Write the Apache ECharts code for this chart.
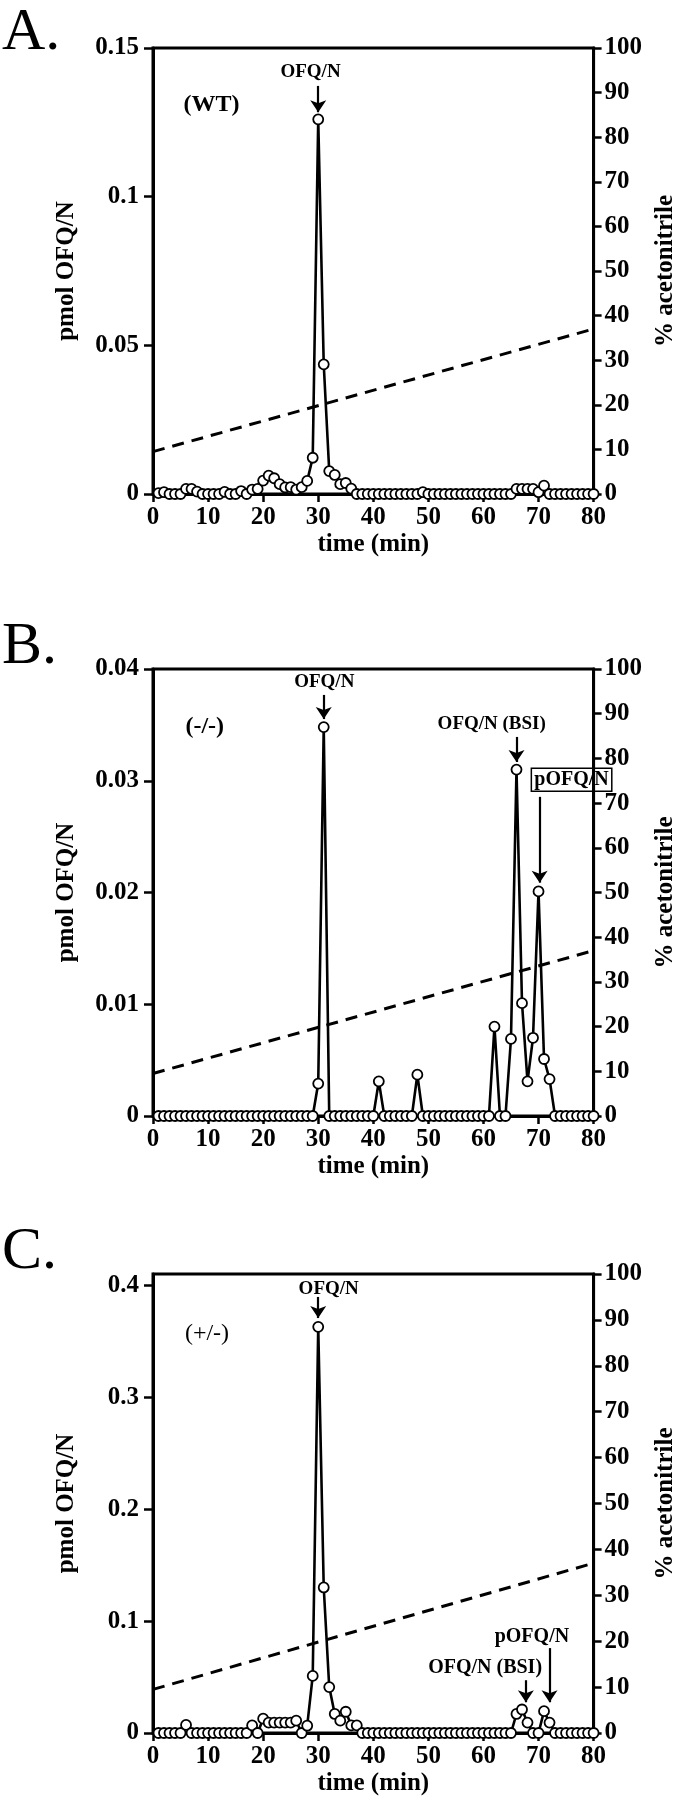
<!DOCTYPE html>
<html>
<head>
<meta charset="utf-8">
<script src="https://cdn.jsdelivr.net/npm/echarts@6/dist/echarts.min.js"></script>
<style>
  html, body { margin: 0; padding: 0; background: #fff; }
  #chart { width: 686px; height: 1800px; }
</style>
</head>
<body>
<div id="chart"></div>
<script>
// fraction collection times (min)
const timeMin = [
  1, 2, 3, 4, 5, 6, 7, 8, 9, 10, 11, 12, 13, 14, 15, 16, 17, 18, 19, 20,
  21, 22, 23, 24, 25, 26, 27, 28, 29, 30, 31, 32, 33, 34, 35, 36, 37, 38, 39, 40,
  41, 42, 43, 44, 45, 46, 47, 48, 49, 50, 51, 52, 53, 54, 55, 56, 57, 58, 59, 60,
  61, 62, 63, 64, 65, 66, 67, 68, 69, 70, 71, 72, 73, 74, 75, 76, 77, 78, 79, 80
]

// A. (WT)
const pmolWT = [
  0.0003, 0.0006, 0, 0, 0, 0.0017, 0.0017, 0.0008, 0, 0, 0, 0, 0.0007, 0, 0, 0.001, 0, 0.0015, 0.0017, 0.0045,
  0.0062, 0.0053, 0.0033, 0.0022, 0.0023, 0.0015, 0.0023, 0.0044, 0.0122, 0.126, 0.0436, 0.0077, 0.0064, 0.0033, 0.0037, 0.0018, 0, 0, 0, 0,
  0, 0, 0, 0, 0, 0, 0, 0, 0.0006, 0, 0, 0, 0, 0, 0, 0, 0, 0, 0, 0,
  0, 0, 0, 0, 0, 0.0017, 0.0017, 0.0017, 0.0017, 0.0006, 0.0028, 0, 0, 0, 0, 0, 0, 0, 0, 0
]

// B. (-/-)
const pmolKO = [
  0, 0, 0, 0, 0, 0, 0, 0, 0, 0, 0, 0, 0, 0, 0, 0, 0, 0, 0, 0,
  0, 0, 0, 0, 0, 0, 0, 0, 0, 0.0029, 0.0348, 0, 0, 0, 0, 0, 0, 0, 0, 0,
  0.0031, 0, 0, 0, 0, 0, 0, 0.0037, 0, 0, 0, 0, 0, 0, 0, 0, 0, 0, 0, 0,
  0, 0.008, 0, 0, 0.0069, 0.031, 0.0101, 0.0031, 0.007, 0.0201, 0.0051, 0.0033, 0, 0, 0, 0, 0, 0, 0, 0
]

// C. (+/-)
const pmolHet = [
  0, 0, 0, 0, 0, 0.0072, 0, 0, 0, 0, 0, 0, 0, 0, 0, 0, 0, 0.0068, 0, 0.0128,
  0.0093, 0.0093, 0.0093, 0.0093, 0.0093, 0.011, 0, 0.0065, 0.051, 0.3628, 0.13, 0.041, 0.017, 0.011, 0.019, 0.0068, 0.0068, 0, 0, 0,
  0, 0, 0, 0, 0, 0, 0, 0, 0, 0, 0, 0, 0, 0, 0, 0, 0, 0, 0, 0,
  0, 0, 0, 0, 0, 0.017, 0.021, 0.0093, 0, 0, 0.0195, 0.0093, 0, 0, 0, 0, 0, 0, 0, 0
]

// acetonitrile gradient (dashed)
const gradTime = [0, 80]
const gradPct = [9.5, 37]

// tick labels
const timeTicks = [0, 10, 20, 30, 40, 50, 60, 70, 80]
const pctTicks = [0, 10, 20, 30, 40, 50, 60, 70, 80, 90, 100]
const pmolTicksA = [0, 0.05, 0.1, 0.15]
const pmolTicksB = [0, 0.01, 0.02, 0.03, 0.04]
const pmolTicksC = [0, 0.1, 0.2, 0.3, 0.4]

const FONT = "'Liberation Serif', 'DejaVu Serif', serif"

const panels = [
  {
    letter: 'A.', top: 48, height: 446, letterTop: 3,
    max: 0.15, interval: 0.05, ticks: pmolTicksA, values: pmolWT,
    notes: [
      { text: 'OFQ/N', x: 28.6, y: 94.6 },
      { text: '(WT)', x: 10.6, y: 87.2, size: 24 }
    ],
    arrows: [[30, 91.5, 85.6]]
  },
  {
    letter: 'B.', top: 669, height: 447, letterTop: 617,
    max: 0.04, interval: 0.01, ticks: pmolTicksB, values: pmolKO,
    notes: [
      { text: 'OFQ/N', x: 31.1, y: 97.1 },
      { text: '(-/-)', x: 9.4, y: 87.0, size: 24 },
      { text: 'OFQ/N (BSI)', x: 61.5, y: 87.7 },
      { text: 'pOFQ/N', x: 76, y: 75.2, boxed: true, size: 20 }
    ],
    arrows: [[31, 94.2, 88.8], [66, 84.8, 79.2], [70.2, 71.4, 52.2]]
  },
  {
    letter: 'C.', top: 1274, height: 459, letterTop: 1222,
    max: 0.41, interval: 0.1, ticks: pmolTicksC, values: pmolHet,
    notes: [
      { text: 'OFQ/N', x: 31.9, y: 96.7 },
      { text: '(+/-)', x: 9.8, y: 87.1, size: 24, weight: 'normal' },
      { text: 'pOFQ/N', x: 68.8, y: 20.9, size: 20 },
      { text: 'OFQ/N (BSI)', x: 60.3, y: 14.2, size: 20 }
    ],
    arrows: [[30, 95.0, 90.4], [67.7, 11.5, 6.7], [72, 18.5, 6.7]]
  }
]

const tickLabel = { fontFamily: FONT, fontWeight: 'bold', fontSize: 25, color: '#000' }
const axisName = { fontFamily: FONT, fontWeight: 'bold', fontSize: 25, color: '#000' }

const option = {
  animation: false,
  backgroundColor: '#fff',
  title: [],
  grid: [],
  xAxis: [],
  yAxis: [],
  series: []
}

panels.forEach((p, i) => {
  option.title.push({
    text: p.letter, left: 2, top: p.letterTop, padding: 0,
    textStyle: { fontFamily: FONT, fontWeight: 'normal', fontSize: 60, color: '#000' }
  })
  option.grid.push({
    left: 153, width: 447, top: p.top, height: p.height,
    show: true, borderColor: '#000', borderWidth: 3, backgroundColor: 'transparent'
  })
  option.xAxis.push({
    gridIndex: i, type: 'value', min: 0, max: 80, interval: 10,
    name: 'time (min)', nameLocation: 'middle', nameGap: 38, nameTextStyle: axisName,
    axisLine: { onZero: false, lineStyle: { color: '#000', width: 3 } },
    axisTick: { inside: false, length: 8, lineStyle: { width: 2.5 } },
    axisLabel: Object.assign({ margin: 11, customValues: timeTicks }, tickLabel),
    splitLine: { show: false }
  })
  option.yAxis.push({
    gridIndex: i, type: 'value', position: 'left', min: 0, max: p.max, interval: p.interval,
    name: 'pmol OFQ/N', nameLocation: 'middle', nameGap: 74, nameRotate: 90, nameTextStyle: axisName,
    axisLine: { show: true, lineStyle: { color: '#000', width: 3 } },
    axisTick: { show: true, length: 9, lineStyle: { width: 2.5 }, customValues: p.ticks },
    axisLabel: Object.assign({ margin: 14, customValues: p.ticks }, tickLabel),
    splitLine: { show: false }
  })
  option.yAxis.push({
    gridIndex: i, type: 'value', position: 'right', min: 0, max: 100, interval: 10,
    name: '% acetonitrile', nameLocation: 'middle', nameGap: 56, nameRotate: 90, nameTextStyle: axisName,
    axisLine: { show: true, lineStyle: { color: '#000', width: 3 } },
    axisTick: { show: true, length: 8, lineStyle: { width: 2.5 }, customValues: pctTicks },
    axisLabel: Object.assign({ margin: 11, customValues: pctTicks }, tickLabel),
    splitLine: { show: false }
  })

  // gradient line, carries the text and arrow annotations
  option.series.push({
    type: 'line', xAxisIndex: i, yAxisIndex: i * 2 + 1,
    data: gradTime.map((t, k) => [t, gradPct[k]]),
    symbol: 'none', silent: true, z: 2,
    lineStyle: { color: '#000', width: 3, type: [12, 8] },
    markPoint: {
      symbol: 'circle', symbolSize: 0, silent: true,
      data: p.notes.map(n => ({
        coord: [n.x, n.y],
        label: {
          show: true, position: 'inside', formatter: n.text,
          fontFamily: FONT, fontWeight: n.weight || 'bold', fontSize: n.size || 19, color: '#000',
          borderColor: n.boxed ? '#000' : 'transparent', borderWidth: n.boxed ? 1.5 : 0,
          padding: n.boxed ? [2, 3, 1, 3] : 0
        }
      }))
    },
    markLine: {
      silent: true, symbol: ['none', 'arrow'], symbolSize: 12,
      label: { show: false },
      lineStyle: { color: '#000', width: 2.2, type: 'solid' },
      data: p.arrows.map(a => [{ coord: [a[0], a[1]] }, { coord: [a[0], a[2]] }])
    }
  })

  // measured OFQ/N
  option.series.push({
    type: 'line', xAxisIndex: i, yAxisIndex: i * 2,
    data: timeMin.map((t, k) => [t, p.values[k]]),
    symbol: 'circle', symbolSize: 10, z: 3,
    lineStyle: { color: '#000', width: 2.6 },
    itemStyle: { color: '#fff', borderColor: '#000', borderWidth: 1.8 }
  })
})

const chart = echarts.init(document.getElementById('chart'), null, { renderer: 'canvas' })
chart.setOption(option)
</script>
</body>
</html>
